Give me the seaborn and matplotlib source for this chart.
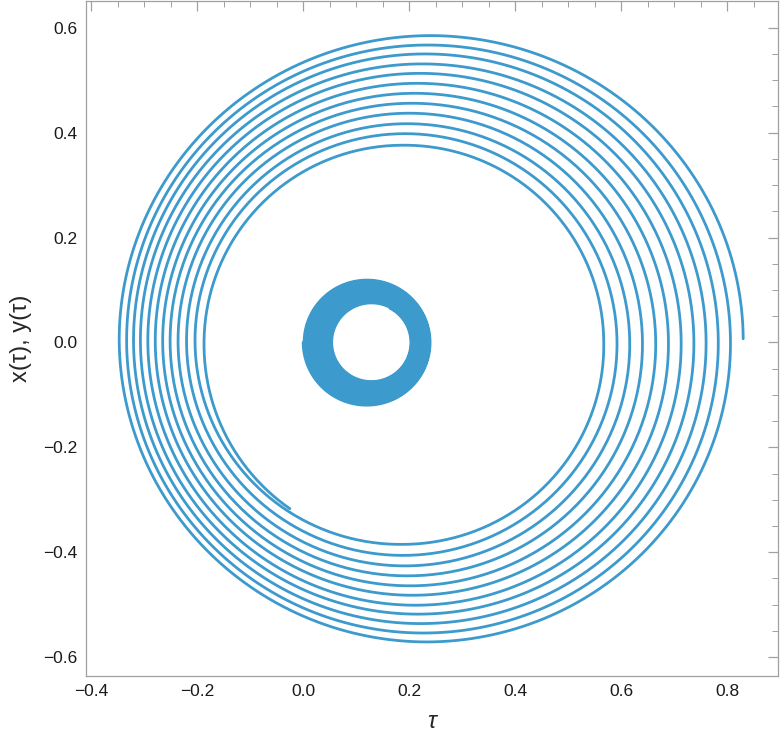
import numpy as np
import pandas as pd
import matplotlib
matplotlib.use("Agg")
import matplotlib.pyplot as plt
from matplotlib.ticker import MultipleLocator, FuncFormatter
import seaborn as sns

# crossings of the big spiral (inner turn first)
LEFT_X = [-0.187, -0.204, -0.220, -0.236, -0.251, -0.265,
          -0.279, -0.293, -0.307, -0.320, -0.333, -0.347]
TOP_Y = [0.376, 0.398, 0.417, 0.437, 0.456, 0.475,
         0.494, 0.513, 0.531, 0.550, 0.567, 0.585]
RIGHT_X = [0.567, 0.592, 0.616, 0.640, 0.665, 0.689,
           0.713, 0.737, 0.760, 0.783, 0.806, 0.830]
BOTTOM_Y = [-0.385, -0.406, -0.426, -0.445, -0.464, -0.482,
            -0.501, -0.518, -0.536, -0.554, -0.571]
SPIRAL_START = (-0.006, -0.315)

# small dense ring near the origin
RING_CENTER_X = [0.129, 0.120]      # inner, outer
RING_CENTER_Y = [0.0, 0.0]
RING_RADIUS = [0.074, 0.120]
RING_ANGLE_DEG = [62.0, 180.0]      # start angle (inner), end angle (outer)
RING_TURNS = 30

COLOR = "#3d9acd"
LW = 2.0

sns.set_style("white")
plt.rcParams["font.family"] = ["Liberation Sans", "DejaVu Sans"]


def spiral_frame():
    # clockwise parameter: left at -pi + 2*pi*k, top -pi/2, right 0, bottom pi/2
    t_left = -np.pi + 2 * np.pi * np.arange(len(LEFT_X))
    t_top = -np.pi / 2 + 2 * np.pi * np.arange(len(TOP_Y))
    t_right = 2 * np.pi * np.arange(len(RIGHT_X))
    t_bottom = np.pi / 2 + 2 * np.pi * np.arange(len(BOTTOM_Y))

    def shape(t):
        xl = np.interp(t, t_left, LEFT_X)
        xr = np.interp(t, t_right, RIGHT_X)
        yt = np.interp(t, t_top, TOP_Y)
        yb = np.interp(t, t_bottom, BOTTOM_Y)
        return (xl + xr) / 2, (xr - xl) / 2, (yt + yb) / 2, (yt - yb) / 2

    # start angle taken from the end point of the inner turn
    cx, rx, cy, ry = shape(-np.pi)
    ang = np.arctan2((SPIRAL_START[1] - cy) / ry, (SPIRAL_START[0] - cx) / rx)
    t_start = -(ang + 2 * np.pi) + 0.04
    t_end = t_right[-1]
    t = np.linspace(t_start, t_end, 6000)
    cx, rx, cy, ry = shape(t)
    return pd.DataFrame({"x": cx + rx * np.cos(t), "y": cy - ry * np.sin(t)})


def ring_frame():
    a0 = np.deg2rad(RING_ANGLE_DEG[0])
    a1 = np.deg2rad(RING_ANGLE_DEG[1]) - 2 * np.pi * (RING_TURNS + 1)
    a = np.linspace(a0, a1, 20000)
    f = (a - a0) / (a1 - a0)
    cx = RING_CENTER_X[0] + f * (RING_CENTER_X[1] - RING_CENTER_X[0])
    cy = RING_CENTER_Y[0] + f * (RING_CENTER_Y[1] - RING_CENTER_Y[0])
    r = RING_RADIUS[0] + f * (RING_RADIUS[1] - RING_RADIUS[0])
    return pd.DataFrame({"x": cx + r * np.cos(a), "y": cy + r * np.sin(a)})


fig = plt.figure(figsize=(7.8, 7.47), dpi=100)
ax = fig.add_axes([0.110, 0.095, 0.887, 0.903])

spiral = spiral_frame()
ring = ring_frame()
sns.lineplot(data=spiral, x="x", y="y", sort=False, estimator=None,
             color=COLOR, linewidth=LW, ax=ax)
sns.lineplot(data=ring, x="x", y="y", sort=False, estimator=None,
             color=COLOR, linewidth=LW, ax=ax)

ax.set_xlim(-0.41, 0.895)
ax.set_ylim(-0.636, 0.65)

ax.xaxis.set_major_locator(MultipleLocator(0.2))
ax.xaxis.set_minor_locator(MultipleLocator(0.05))
ax.yaxis.set_major_locator(MultipleLocator(0.2))
ax.yaxis.set_minor_locator(MultipleLocator(0.05))
fmt = FuncFormatter(lambda v, p: f"{v:.1f}".replace("-", "\u2212") if abs(v) > 1e-9 else "0.0")
ax.xaxis.set_major_formatter(fmt)
ax.yaxis.set_major_formatter(fmt)

ax.tick_params(which="both", direction="in", top=True, right=True,
               color="#a0a0a0", labelcolor="#1a1a1a", labelsize=12.5)
ax.tick_params(which="major", length=7, width=0.9, pad=6)
ax.tick_params(which="minor", length=4, width=0.7)
for s in ax.spines.values():
    s.set_color("#a0a0a0")
    s.set_linewidth(0.9)

ax.set_xlabel("\u03c4", fontsize=17, fontstyle="italic", labelpad=8)
ax.set_ylabel("x(\u03c4), y(\u03c4)", fontsize=17, labelpad=8)

fig.savefig("out.png", dpi=100)
